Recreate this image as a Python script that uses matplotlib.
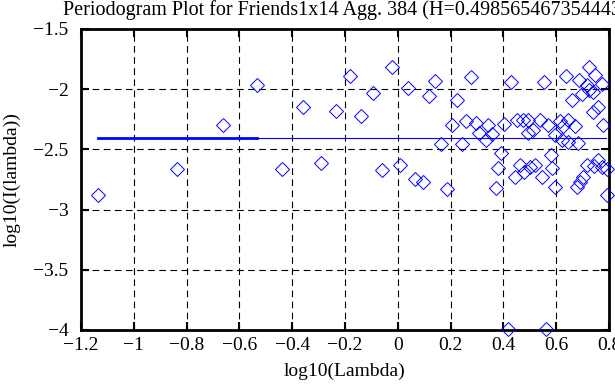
import matplotlib
matplotlib.use("Agg")
import matplotlib.pyplot as plt

plt.rcParams['font.family'] = ['Liberation Serif', 'DejaVu Serif']
plt.rcParams['font.size'] = 14

# periodogram points (log10 lambda, log10 I(lambda))
log_lambda = [
    -1.137, -0.835, -0.661, -0.534, -0.438, -0.360, -0.292, -0.235, -0.181, -0.139,
    -0.093, -0.059, -0.023, 0.009, 0.039, 0.142, 0.118, 0.164, 0.065, 0.094,
    0.185, 0.223, 0.205, 0.276, 0.258, 0.295, 0.341, 0.309, 0.333, 0.242,
    0.391, 0.380, 0.372, 0.429, 0.403, 0.453, 0.475, 0.494, 0.494, 0.463,
    0.444, 0.479, 0.501, 0.356, 0.554, 0.637, 0.659, 0.539, 0.570, 0.614,
    0.627, 0.595, 0.621, 0.513, 0.579, 0.520, 0.583, 0.545, 0.595, 0.724,
    0.747, 0.686, 0.772, 0.697, 0.724, 0.741, 0.759, 0.741, 0.778, 0.646,
    0.671, 0.646, 0.681, 0.716, 0.759, 0.744, 0.775, 0.791, 0.703, 0.690,
    0.678, 0.791, 0.716, 0.419, 0.560,
]
log_power = [
    -2.875, -2.661, -2.294, -1.964, -2.661, -2.148, -2.614, -2.181, -1.889, -2.225,
    -2.031, -2.669, -1.819, -2.628, -1.994, -1.928, -2.058, -2.456, -2.748, -2.769,
    -2.825, -2.092, -2.300, -1.898, -2.264, -2.281, -2.294, -2.364, -2.425, -2.458,
    -2.533, -2.656, -2.817, -1.939, -2.286, -2.258, -2.253, -2.258, -2.364, -2.633,
    -2.731, -2.689, -2.648, -2.369, -1.939, -1.892, -2.086, -2.258, -2.300, -2.267,
    -2.308, -2.383, -2.425, -2.336, -2.550, -2.633, -2.653, -2.731, -2.814, -1.814,
    -1.878, -1.925, -1.958, -2.036, -2.008, -2.025, -2.148, -2.189, -2.300, -2.258,
    -2.308, -2.439, -2.448, -2.633, -2.592, -2.642, -2.648, -2.661, -2.731, -2.773,
    -2.814, -2.875, -1.967, -3.994, -3.994,
]

# least-squares fit: thick over the fitted low frequencies, thin extension
fit_level = -2.406
fit_x = [-1.137, -0.534]
ext_x = [-0.534, 0.79]

title = "Periodogram Plot for Friends1x14 Agg. 384 (H=0.498565467354443)"

fig = plt.figure(figsize=(6.15, 3.85), dpi=100)
ax = fig.add_axes([81 / 615, 55 / 385, 528 / 615, 301 / 385])

ax.plot(log_lambda, log_power, linestyle='none', marker='D', markersize=7,
        markerfacecolor='none', markeredgecolor='#0000ff', markeredgewidth=0.7,
        clip_on=False, zorder=3)
ax.plot(fit_x, [fit_level, fit_level], color='#0000ff', linewidth=2, zorder=4)
ax.plot(ext_x, [fit_level, fit_level], color='#0000ff', linewidth=0.8, zorder=4)

ax.set_xlim(-1.2, 0.8)
ax.set_ylim(-4, -1.5)
ax.set_xticks([-1.2, -1, -0.8, -0.6, -0.4, -0.2, 0, 0.2, 0.4, 0.6, 0.8])
ax.set_xticklabels(['\u22121.2', '\u22121', '\u22120.8', '\u22120.6', '\u22120.4',
                    '\u22120.2', '0', '0.2', '0.4', '0.6', '0.8'])
ax.set_yticks([-4, -3.5, -3, -2.5, -2, -1.5])
ax.set_yticklabels(['\u22124', '\u22123.5', '\u22123', '\u22122.5', '\u22122', '\u22121.5'])

ax.grid(True, color='black', linestyle=(0, (6, 4)), linewidth=0.8)
ax.tick_params(direction='in', length=6, width=1.5, top=True, right=True)
ax.tick_params(axis='x', pad=5)
ax.tick_params(axis='y', pad=9)
for s in ax.spines.values():
    s.set_linewidth(2)

ax.set_xlabel('log10(Lambda)', labelpad=6)
ax.set_ylabel('log10(I(lambda))')
ax.yaxis.set_label_coords(-0.115, 0.5)

fig.text(63 / 615, 1 - 10 / 385, title, ha='left', va='center', fontsize=14.5)

fig.savefig('out.png', dpi=100)
